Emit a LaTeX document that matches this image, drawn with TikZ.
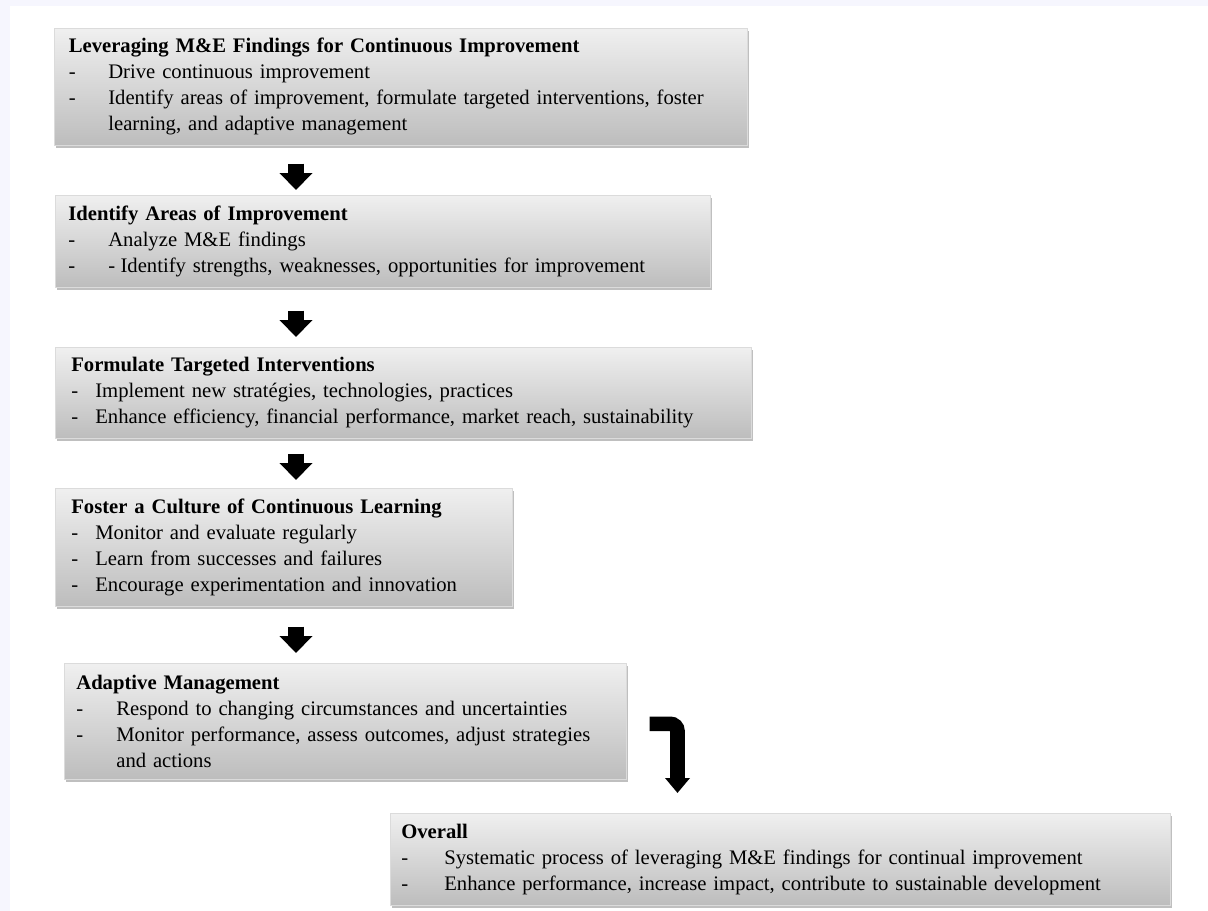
\documentclass[tikz,border=0pt]{standalone}
\usepackage{fontspec}
\setmainfont{Liberation Serif}
\usetikzlibrary{arrows.meta,calc,shadows}

% one pixel of the layout grid
\newdimen\px \px=0.75pt
% bold heading stretched to a set width
\newcommand\headline[2]{\textbf{\makebox[#1\px][s]{#2}}}
% bullet line: dash column of width #1, text stretched to width #2
\newcommand\dashline[3]{\makebox[#1\px][l]{-}\makebox[#2\px][s]{#3}}
% continuation of a bullet line
\newcommand\contline[3]{\hspace*{#1\px}\makebox[#2\px][s]{#3}}

\definecolor{framelav}{RGB}{246,246,254}

\begin{document}
\begin{tikzpicture}[x=0.75pt,y=-0.75pt,
  panel/.style={rectangle, anchor=north west, inner ysep=0pt, align=left,
    top color=black!6, bottom color=black!26, draw=black!14, line width=0.5pt,
    drop shadow={opacity=0.45, fill=black!55, shadow xshift=1.5pt, shadow yshift=-2.25pt},
    font=\fontsize{15.5pt}{19.5pt}\selectfont},
  blockarrow/.style={line width=12pt, -{Triangle[width=24pt,length=12.75pt]}},
  bentarrow/.style={line width=11pt, rounded corners=5.5pt, -{Triangle[width=18pt,length=11.25pt]}}]

\useasboundingbox (0,0) rectangle (1208,911);
\fill[white] (0,0) rectangle (1208,911);
\fill[framelav] (0,0) rectangle (1208,6);
\fill[framelav] (0,0) rectangle (10,911);

\node[panel, text width=498pt, inner xsep=10.875pt, minimum height=87.75pt] (b1) at (54,28) {%
  \headline{518}{Leveraging M\&E Findings for Continuous Improvement}\\
  \dashline{39.5}{263}{Drive continuous improvement}\\
  \dashline{39.5}{609}{Identify areas of improvement, formulate targeted interventions, foster}\\
  \contline{39.5}{302}{learning, and adaptive management}};

\node[panel, text width=471.75pt, inner xsep=9.75pt, minimum height=69pt] (b2) at (55,195) {%
  \headline{280}{Identify Areas of Improvement}\\
  \dashline{40}{195}{Analyze M\&E findings}\\
  \dashline{40}{548}{-\hspace{4pt}Identify strengths, weaknesses, opportunities for improvement}};

\node[panel, text width=498pt, inner xsep=12pt, minimum height=68.25pt] (b3) at (55,347) {%
  \headline{311}{Formulate Targeted Interventions}\\
  \dashline{24}{428}{Implement new stratégies, technologies, practices}\\
  \dashline{24}{613}{Enhance efficiency, financial performance, market reach, sustainability}};

\node[panel, text width=318.75pt, inner xsep=12pt, minimum height=88.5pt] (b4) at (55,488) {%
  \headline{375}{Foster a Culture of Continuous Learning}\\
  \dashline{24}{263}{Monitor and evaluate regularly}\\
  \dashline{24}{287}{Learn from successes and failures}\\
  \dashline{24}{368}{Encourage experimentation and innovation}};

\node[panel, text width=403.5pt, inner xsep=9pt, minimum height=87pt] (b5) at (64,663) {%
  \headline{209}{Adaptive Management}\\
  \dashline{40}{457}{Respond to changing circumstances and uncertainties}\\
  \dashline{40}{481}{Monitor performance, assess outcomes, adjust strategies}\\
  \contline{40}{94}{and actions}};

\node[panel, text width=568.5pt, inner xsep=8.25pt, minimum height=69pt] (b6) at (390,813) {%
  \textbf{Overall}\\
  \dashline{43}{632}{Systematic process of leveraging M\&E findings for continual improvement}\\
  \dashline{43}{671}{Enhance performance, increase impact, contribute to sustainable development}};

% columns of the connectors
\coordinate (ax) at (296,0);
\coordinate (bx) at (677.5,0);

\draw[blockarrow] ($(b1.south -| ax)+(0,18)$) -- ($(b2.north -| ax)+(0,-5)$);
\draw[blockarrow] ($(b2.south -| ax)+(0,23)$) -- ($(b3.north -| ax)+(0,-10)$);
\draw[blockarrow] ($(b3.south -| ax)+(0,15)$) -- ($(b4.north -| ax)+(0,-8)$);
\draw[blockarrow] ($(b4.south -| ax)+(0,20)$) -- ($(b5.north -| ax)+(0,-10)$);
\draw[bentarrow] ($(b5.east)+(23,2.5)$) -| ($(b6.north -| bx)+(0,-20)$);
\end{tikzpicture}
\end{document}
